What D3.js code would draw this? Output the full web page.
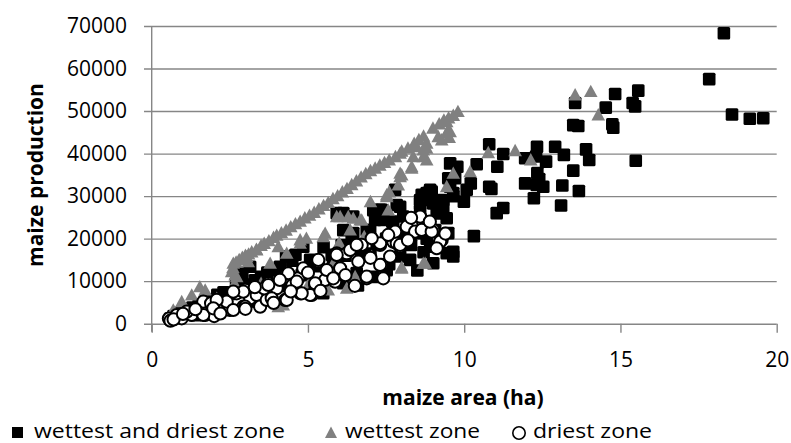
<!DOCTYPE html>
<html>
<head>
<meta charset="utf-8">
<script src="https://cdn.jsdelivr.net/npm/d3@7"></script>
<style>
  body { margin: 0; background: #fff; }
  text { font-family: "Open Sans", sans-serif; }
</style>
</head>
<body>
<svg id="chart" width="791" height="443"></svg>
<script>
// tick values
let xTicks = [0, 5, 10, 15, 20];
let yTicks = [0, 10000, 20000, 30000, 40000, 50000, 60000, 70000];

// series: [maize area (ha), maize production]
let wettestDriest = [
  [18.31,68300],[17.84,57500],[18.57,49200],[19.14,48200],[19.57,48300],
  [15.49,38300],[15.57,54800],[14.83,54000],[14.53,50800],[15.39,51900],[15.47,51100],[14.74,46900],[14.77,46100],
  [13.55,51900],[13.49,46700],[13.65,46500],[13.90,41000],[14.0,38500],[13.49,36000],[13.67,31200],[13.1,27800],[13.14,32500],
  [12.91,41600],[13.19,39700],[12.62,38100],[12.33,41600],[12.30,39300],[11.95,38900],[12.34,35400],[11.95,33000],
  [12.32,32600],[12.53,32200],[12.23,29500],[12.4,34000],
  [10.8,42200],[11.25,39900],[11.06,36900],[10.4,37500],[9.78,36900],[9.49,34200],[10.21,33000],[10.08,31500],
  [10.8,32200],[10.87,31700],[9.99,28700],[9.65,30000],[8.9,31100],[8.59,29100],[11.25,27200],[11.04,26000],
  [9.14,27200],[9.2,26000],[10.31,20600],[9.63,16700],
  [6.13,26000],[6.45,25200],[7.31,26800],[7.15,24400],[7.95,27500],[8.05,25200],[7.73,22800],[8.64,30300],
  [8.96,31100],[9.01,28700],[9.33,27500],[9.55,37700],[9.71,34200],[9.65,30700],[9.44,24800],[8.59,26400],
  [8.37,22000],[6.88,22000],[6.13,22000],[5.92,26000],[7.36,26800],[7.84,27900],[8.91,31500],[9.01,28300],
  [9.55,32200],[9.33,29100],[8.64,29100],[7.79,31500],[7.41,24400],[7.09,26700],[8.59,28300],[8.8,30700],
  [9.12,26000],[9.49,21300],[9.65,15800],[9.01,14200],[8.91,18100],[8.27,15000],[7.95,15800],[7.52,12600],
  [6.56,11900],[6.13,9500],[5.49,7200],[6.45,21300],[6.99,22000],[7.2,18900],[6.08,18500],[5.76,16200],
  [5.07,15000],[4.85,18100],[8.48,21300],[9.07,22000],[9.44,16600],[9.65,16900],
  [0.6,1200],[0.7,1800],[0.9,2500],[1.1,3000],[1.3,3800],[1.5,4200],[1.7,5200],[1.9,5600],[2.1,6800],
  [2.3,7400],[2.5,7000],[2.7,9500],[2.9,11800],[3.15,13400],[3.0,9200],[3.3,10200],[3.5,11000],[3.7,12000],
  [3.9,12600],[4.1,13400],[4.3,15800],[4.5,14800],[4.6,16200],[4.2,8800],[4.8,11500],[5.0,12500],[5.3,13500],
  [5.5,18000],[5.8,14500],[6.2,16000],[6.4,19500],[6.7,17000],[7.0,16500],[7.5,20000],[7.7,24000],[8.1,20500],
  [8.3,18500],[8.7,16800],[8.8,20000],[2.2,3500],[3.4,5200],[1.4,2000],[6.6,9000],[7.1,11000],[7.6,14000],[8.5,12500]
];

let wettest = [
  [2.6,13200],[2.7,14500],[2.8,15100],[2.9,15600],[3.0,16100],[3.1,16400],[3.2,16900],[3.35,17500],[3.5,18400],
  [3.6,18900],[3.75,19500],[3.9,20300],[4.0,20800],[4.15,21400],[4.3,22000],[4.45,22800],[4.6,23500],[4.75,24100],
  [4.9,24900],[5.05,25500],[5.2,26200],[5.35,27000],[5.5,27800],[5.65,28500],[5.8,29400],[5.95,30100],[6.1,31000],
  [6.25,31800],[6.4,32700],[6.55,33600],[6.7,34500],[6.85,35300],[7.0,36000],[7.15,36600],[7.3,37300],[7.45,37900],
  [7.6,38500],[7.8,39300],[8.0,40600],[8.2,41300],[8.4,42400],[8.55,43300],[8.7,44100],[9.0,46000],[9.2,47000],
  [9.35,47900],[9.5,48400],[9.65,49000],[9.8,49900],
  [9.17,44000],[9.44,44800],[8.48,41650],[8.69,40870],[7.95,40090],[8.37,39300],[8.32,36570],[7.95,35390],
  [7.89,32640],[7.52,29880],[7.0,28710],[7.57,26750],[6.67,24400],[6.29,25180],[5.92,25180],[6.35,22050],
  [5.55,21270],[4.95,20090],[9.44,32240],[9.65,35390],[7.6,31000],[8.32,36940],[7.95,34590],[6.03,25180],
  [6.45,24800],[6.72,24400],[5.49,20470],[4.75,18920],[10.19,35770],[9.44,47530],[8.8,42450],[9.55,45180],
  [9.52,43800],[8.8,41270],[8.69,39300],[8.8,38520],[8.0,35000],[10.77,40240],[11.63,40710],[12.13,38520],
  [13.55,53800],[14.05,54600],[14.29,49100],[9.28,43220],[9.49,45580],
  [1.54,8700],[1.71,7930],[1.28,6750],[0.96,5180],[0.69,3220],[2.08,5980],[2.56,12240],[2.72,11060],[2.65,9500],
  [3.04,15770],[3.36,17340],[3.79,14210],[4.32,16560],[4.05,18120],[2.61,14210],[3.09,14600],[2.67,11460],
  [4.21,4400],[6.24,8330],[8.75,14210],[8.0,13270],[7.04,15770],[6.51,11060],[5.65,7930],[4.75,19700],
  [7.52,30280],[8.69,14210],[8.0,13040],[4.05,4000],[0.8,2000],[1.1,3500],[2.3,5000],[3.2,7000],[3.5,9500],
  [4.4,11000],[5.0,9000],[5.8,14000],[6.0,19000],[6.8,20500]
];

let driest = [
  [0.59,870],[0.55,1200],[0.6,700],[0.8,2050],[0.96,1270],[1.28,2050],[1.12,2820],[1.71,2050],[1.6,2700],
  [2.08,3620],[2.0,1800],[1.65,5180],[1.9,4800],[2.5,3220],[2.4,5180],[2.93,4000],[2.99,7930],[3.15,5970],
  [2.72,7150],[3.36,6750],[3.47,4000],[3.68,5580],[3.73,9500],[4.0,8330],[3.6,8300],[4.27,5580],[4.32,11860],
  [4.5,9000],[4.75,7150],[4.69,10680],[1.65,2050],[2.08,5580],[1.97,3620],[2.61,3220],[2.99,4000],[2.93,7530],
  [2.61,7530],[3.73,9100],[3.84,5970],[4.32,5580],[4.37,11860],[4.64,9880],[5.12,6750],[5.23,9100],[5.33,14600],
  [5.55,10280],[5.87,9880],[5.92,16560],[6.24,16560],[6.03,13040],[6.72,18520],[6.61,14600],[6.88,10680],
  [7.31,18520],[7.36,13810],[7.41,10680],[7.73,19300],[7.63,15770],[8.43,23220],[8.69,23620],[9.01,22050],
  [9.28,19700],[9.12,18120],[7.84,18920],[7.95,18120],[7.31,13810],[6.88,11060],[7.31,18920],[6.35,17340],
  [5.92,16170],[5.23,9500],[5.07,6750],[5.33,14990],[4.8,7150],[4.85,13040],[7.79,21650],[7.57,20870],
  [7.04,20090],[6.56,18520],[5.6,12630],[5.81,10680],[8.16,22820],[8.43,21650],[8.64,22050],[8.96,21650],
  [9.23,19300],[9.12,17740],[7.95,18520],[8.59,25180],[8.3,24900],
  [3.0,3500],[3.3,8600],[4.1,10300],[4.45,7600],[5.0,12000],[5.4,7700],[6.2,11400],[6.5,8900],[7.0,15500],
  [8.2,19600],[8.9,24000],[9.4,21200],[3.9,4900],[1.4,3400],[2.2,2400],[0.7,1000],[1.0,2300]
];

let legendNames = ["wettest and driest zone", "wettest zone", "driest zone"];

var svg = d3.select("#chart");
var gridColor = "#868686";
var fontSize = "21px";

var x = d3.scaleLinear().domain([0, 20]).range([151.7, 776.7]);
var y = d3.scaleLinear().domain([0, 70000]).range([323.7, 26]);

// horizontal gridlines + y labels
var yAxis = svg.append("g")
    .attr("transform", "translate(144,0)")
    .call(d3.axisLeft(y).tickValues(yTicks).tickFormat(d3.format("d"))
        .tickSize(-(x(20) - 144)).tickPadding(17));
yAxis.select(".domain").remove();
yAxis.selectAll("line").attr("stroke", gridColor).attr("stroke-width", 1.4);
yAxis.selectAll("text").attr("font-size", fontSize).attr("fill", "#000")
    .attr("font-family", "'Open Sans', sans-serif");

// x axis ticks + labels
var xAxis = svg.append("g")
    .attr("transform", "translate(0," + y(0) + ")")
    .call(d3.axisBottom(x).tickValues(xTicks).tickSize(9).tickPadding(19));
xAxis.select(".domain").remove();
xAxis.selectAll("line").attr("stroke", gridColor).attr("stroke-width", 1.4);
xAxis.selectAll("text").attr("font-size", fontSize).attr("fill", "#000")
    .attr("font-family", "'Open Sans', sans-serif");

// vertical axis line
svg.append("line")
    .attr("x1", x(0)).attr("x2", x(0))
    .attr("y1", y(70000)).attr("y2", y(0) + 8)
    .attr("stroke", gridColor).attr("stroke-width", 1.4);

// axis titles
svg.append("text")
    .attr("x", 463).attr("y", 405)
    .attr("text-anchor", "middle")
    .attr("font-size", fontSize).attr("font-weight", "bold")
    .text("maize area (ha)");

svg.append("text")
    .attr("transform", "translate(43,175) rotate(-90)")
    .attr("text-anchor", "middle")
    .attr("font-size", fontSize).attr("font-weight", "bold")
    .text("maize production");

var triPath = "M0,-6.8L6.8,5.6L-6.8,5.6Z";

// squares
svg.append("g").selectAll("rect")
    .data(wettestDriest).enter().append("rect")
    .attr("x", function(d) { return x(d[0]) - 6.3; })
    .attr("y", function(d) { return y(d[1]) - 6.3; })
    .attr("width", 12.6).attr("height", 12.6)
    .attr("rx", 1.5)
    .attr("fill", "#000");

// triangles
svg.append("g").selectAll("path")
    .data(wettest).enter().append("path")
    .attr("d", triPath)
    .attr("transform", function(d) { return "translate(" + x(d[0]) + "," + y(d[1]) + ")"; })
    .attr("fill", "#808080");

// circles
svg.append("g").selectAll("circle")
    .data(driest).enter().append("circle")
    .attr("cx", function(d) { return x(d[0]); })
    .attr("cy", function(d) { return y(d[1]); })
    .attr("r", 6.1)
    .attr("fill", "#fff")
    .attr("stroke", "#000")
    .attr("stroke-width", 2);

// legend
var legendSize = "20px";
var lg = svg.append("g");
lg.append("rect").attr("x", 12).attr("y", 427).attr("width", 11).attr("height", 11).attr("fill", "#000");
lg.append("text").attr("x", 34).attr("y", 437.5).attr("font-size", legendSize)
    .attr("textLength", 251).attr("lengthAdjust", "spacingAndGlyphs").text(legendNames[0]);
lg.append("path").attr("d", "M0,-6L6,5.5L-6,5.5Z").attr("transform", "translate(331,432.5)").attr("fill", "#808080");
lg.append("text").attr("x", 345).attr("y", 437.5).attr("font-size", legendSize)
    .attr("textLength", 135).attr("lengthAdjust", "spacingAndGlyphs").text(legendNames[1]);
lg.append("circle").attr("cx", 519).attr("cy", 433).attr("r", 6.2)
    .attr("fill", "#fff").attr("stroke", "#000").attr("stroke-width", 1.6);
lg.append("text").attr("x", 533).attr("y", 437.5).attr("font-size", legendSize)
    .attr("textLength", 119).attr("lengthAdjust", "spacingAndGlyphs").text(legendNames[2]);
</script>
</body>
</html>
